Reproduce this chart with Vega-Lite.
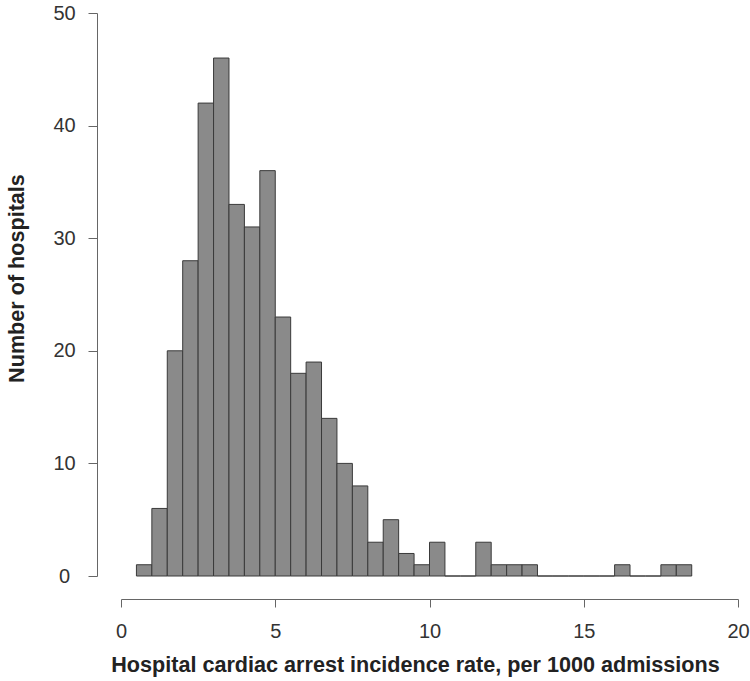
{
  "$schema": "https://vega.github.io/schema/vega-lite/v6.json",
  "width": 617,
  "height": 563,
  "autosize": {"type": "none"},
  "padding": {"left": 121, "top": 13, "right": 12, "bottom": 105},
  "background": "white",
  "config": {
    "view": {"stroke": null},
    "font": "Liberation Sans"
  },
  "data": {
    "values": [
      {"bin_start": 0.5, "bin_end": 1.0, "count": 1},
      {"bin_start": 1.0, "bin_end": 1.5, "count": 6},
      {"bin_start": 1.5, "bin_end": 2.0, "count": 20},
      {"bin_start": 2.0, "bin_end": 2.5, "count": 28},
      {"bin_start": 2.5, "bin_end": 3.0, "count": 42},
      {"bin_start": 3.0, "bin_end": 3.5, "count": 46},
      {"bin_start": 3.5, "bin_end": 4.0, "count": 33},
      {"bin_start": 4.0, "bin_end": 4.5, "count": 31},
      {"bin_start": 4.5, "bin_end": 5.0, "count": 36},
      {"bin_start": 5.0, "bin_end": 5.5, "count": 23},
      {"bin_start": 5.5, "bin_end": 6.0, "count": 18},
      {"bin_start": 6.0, "bin_end": 6.5, "count": 19},
      {"bin_start": 6.5, "bin_end": 7.0, "count": 14},
      {"bin_start": 7.0, "bin_end": 7.5, "count": 10},
      {"bin_start": 7.5, "bin_end": 8.0, "count": 8},
      {"bin_start": 8.0, "bin_end": 8.5, "count": 3},
      {"bin_start": 8.5, "bin_end": 9.0, "count": 5},
      {"bin_start": 9.0, "bin_end": 9.5, "count": 2},
      {"bin_start": 9.5, "bin_end": 10.0, "count": 1},
      {"bin_start": 10.0, "bin_end": 10.5, "count": 3},
      {"bin_start": 10.5, "bin_end": 11.0, "count": 0},
      {"bin_start": 11.0, "bin_end": 11.5, "count": 0},
      {"bin_start": 11.5, "bin_end": 12.0, "count": 3},
      {"bin_start": 12.0, "bin_end": 12.5, "count": 1},
      {"bin_start": 12.5, "bin_end": 13.0, "count": 1},
      {"bin_start": 13.0, "bin_end": 13.5, "count": 1},
      {"bin_start": 13.5, "bin_end": 14.0, "count": 0},
      {"bin_start": 14.0, "bin_end": 14.5, "count": 0},
      {"bin_start": 14.5, "bin_end": 15.0, "count": 0},
      {"bin_start": 15.0, "bin_end": 15.5, "count": 0},
      {"bin_start": 15.5, "bin_end": 16.0, "count": 0},
      {"bin_start": 16.0, "bin_end": 16.5, "count": 1},
      {"bin_start": 16.5, "bin_end": 17.0, "count": 0},
      {"bin_start": 17.0, "bin_end": 17.5, "count": 0},
      {"bin_start": 17.5, "bin_end": 18.0, "count": 1},
      {"bin_start": 18.0, "bin_end": 18.5, "count": 1}
    ]
  },
  "mark": {"type": "rect", "fill": "#8a8a8a", "stroke": "#3a3a3a", "strokeWidth": 1},
  "encoding": {
    "x": {
      "field": "bin_start",
      "type": "quantitative",
      "scale": {"domain": [0, 20], "nice": false, "zero": false},
      "axis": {
        "title": "Hospital cardiac arrest incidence rate, per 1000 admissions",
        "values": [0, 5, 10, 15, 20],
        "grid": false,
        "offset": 23,
        "domainColor": "#666666",
        "tickColor": "#666666",
        "tickSize": 8,
        "labelFontSize": 20,
        "labelColor": "#333333",
        "labelPadding": 14,
        "labelFlush": false,
        "labelFont": "Liberation Sans",
        "titleFont": "Liberation Sans",
        "titleFontSize": 21.6,
        "titleFontWeight": "bold",
        "titleColor": "#222222",
        "titlePadding": 13,
        "titleX": 294
      }
    },
    "x2": {"field": "bin_end"},
    "y": {
      "field": "count",
      "type": "quantitative",
      "scale": {"domain": [0, 50], "nice": false},
      "axis": {
        "title": "Number of hospitals",
        "values": [0, 10, 20, 30, 40, 50],
        "grid": false,
        "offset": 24,
        "domainColor": "#666666",
        "tickColor": "#666666",
        "tickSize": 9,
        "labelFontSize": 20,
        "labelColor": "#333333",
        "labelAlign": "center",
        "labelPadding": 24,
        "labelFlush": false,
        "labelFont": "Liberation Sans",
        "titleFont": "Liberation Sans",
        "titleFontSize": 21.6,
        "titleFontWeight": "bold",
        "titleColor": "#222222",
        "titlePadding": 24,
        "titleY": 265
      }
    },
    "y2": {"datum": 0}
  }
}
